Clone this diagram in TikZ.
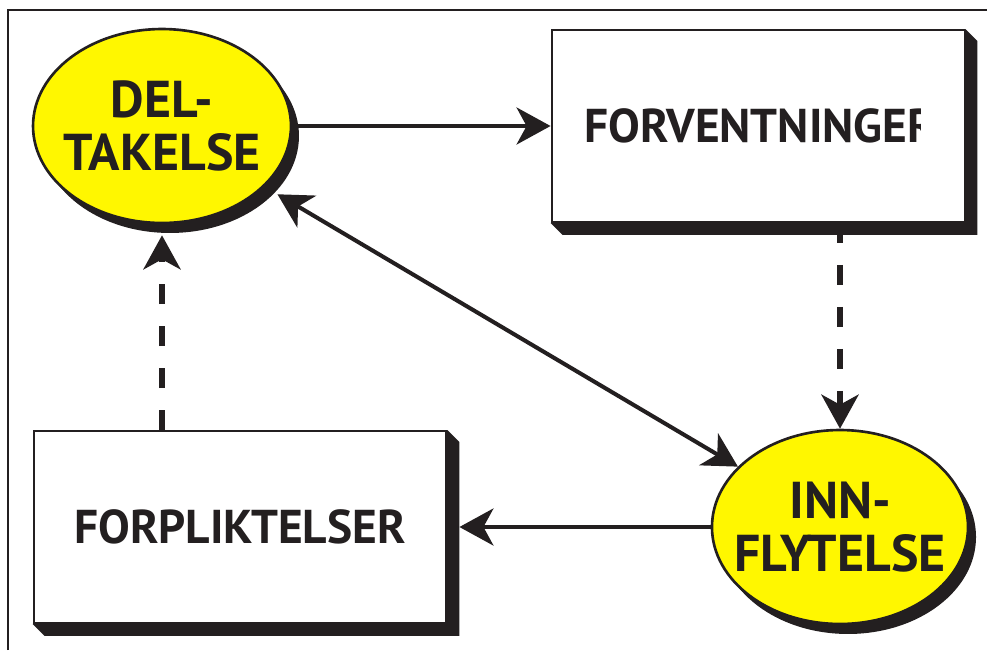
\documentclass[tikz,border=0pt]{standalone}
\usepackage{fontspec}
\setmainfont{PT Sans}
\usepackage{tikz}
\usetikzlibrary{shapes.geometric,arrows.meta,shadows,backgrounds}
\definecolor{gul}{RGB}{255,247,0}
\definecolor{mork}{RGB}{35,31,32}

\begin{document}
\begin{tikzpicture}[x=0.02cm,y=-0.02cm,
    boble/.style={ellipse,draw=mork,line width=1.5pt,fill=gul,inner sep=-0.3cm,
      minimum height=3.88cm,
      drop shadow={shadow xshift=0.16cm,shadow yshift=-0.2cm,fill=mork,opacity=1}},
    boks/.style={rectangle,draw=mork,line width=1.1pt,fill=white,inner sep=0pt,
      minimum width=8.26cm,minimum height=3.84cm},
    tekst/.style={font=\fontsize{27}{29}\selectfont\bfseries,text=mork,align=center},
    stortekst/.style={tekst,font=\fontsize{29.5}{30}\selectfont\bfseries},
    pil/.style={line width=2.3pt,draw=mork,->,>={Stealth[length=0.68cm,width=0.74cm,inset=0.2cm]}},
    stiplet/.style={pil,line width=3.6pt,dash pattern=on 0.4cm off 0.44cm}]
    \useasboundingbox (0,0) rectangle (987,650);
    \draw[line width=0.6pt,mork] (8,650) -- (8,10) -- (987,10);

    % the four parts
    \node[boble,stortekst,minimum width=5.16cm] (del) at (162,126) {DEL-\\TAKELSE};
    \node[boks] (forv) at (758,126) {};
    \node[boble,stortekst,minimum width=5.08cm] (inn) at (840,527) {INN-\\FLYTELSE};
    \node[boks,tekst] (forp) at (240,527) {FORPLIKTELSER};

    \begin{scope}
      \clip (forv.north west) rectangle ([xshift=-0.9cm]forv.south east);
      \node[tekst,anchor=west] (forvtxt) at ([xshift=0.55cm]forv.west) {FORVENTNINGER};
    \end{scope}

    \begin{scope}[on background layer]
      \foreach \b in {forv,forp}
        \fill[mork] (\b.north east) -- ([shift={(12,12)}]\b.north east)
          -- ([shift={(12,12)}]\b.south east) -- ([shift={(12,12)}]\b.south west)
          -- (\b.south west) -- cycle;
    \end{scope}

    \draw[pil] (del) -- (forv);
    \draw[stiplet] (forv.south -| inn.north) -- (inn.north);
    \draw[pil] (inn) -- ([xshift=0.24cm]forp.east);
    \draw[stiplet] (del.south |- forp.north) -- ([yshift=-0.22cm]del.south);
    \draw[pil,<->,shorten <=0.3cm] (del) -- (inn);
\end{tikzpicture}
\end{document}
